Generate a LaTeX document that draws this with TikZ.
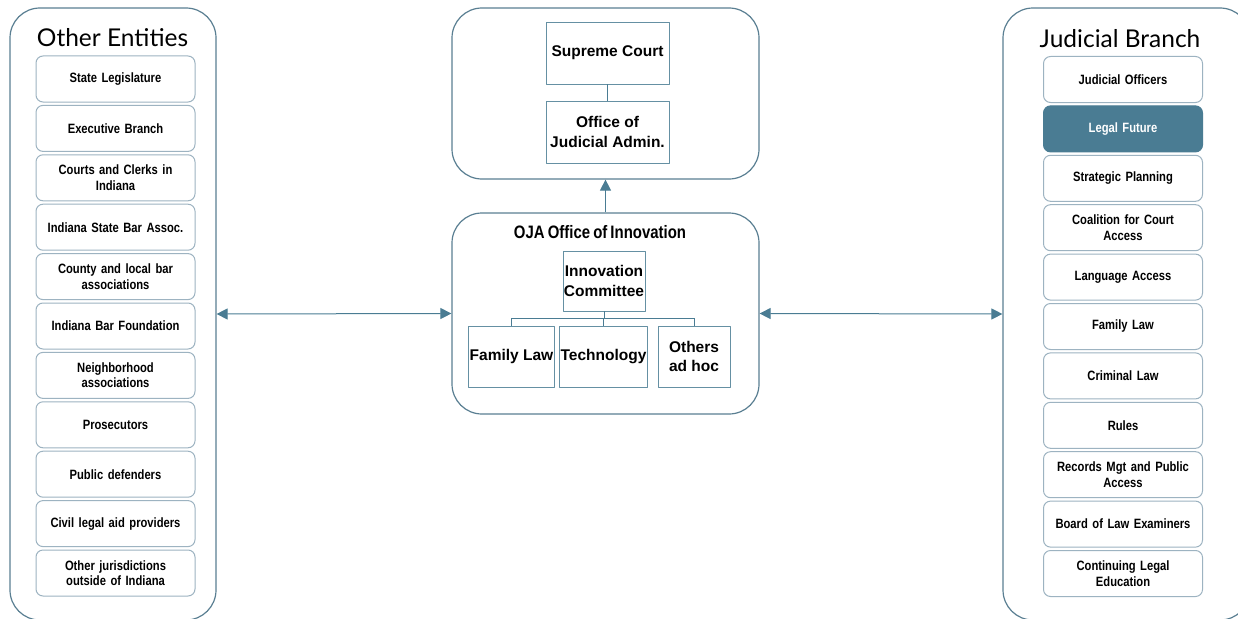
\documentclass[tikz,border=0pt]{standalone}
\usepackage{fontspec}
\setmainfont{Liberation Sans}
\newfontfamily\titlefont{Lato}
\newfontfamily\narrowfont[FakeStretch=0.83,WordSpace=0.75]{Liberation Sans}
\usepackage{tikz}
\usetikzlibrary{arrows.meta,positioning}
\definecolor{frame}{HTML}{5A7F92}
\definecolor{soft}{HTML}{9DB3C1}
\definecolor{steel}{HTML}{4A7C93}
\tikzset{
  Group/.style={
    draw=frame, line width=1.2pt,
    rounded corners=30pt, fill=white, inner sep=0pt
  },
  Member/.style={
    draw=soft, line width=1pt, rounded corners=7pt,
    minimum width=159pt, minimum height=46pt,
    text width=155pt, align=center, inner sep=0pt,
    font=\narrowfont\bfseries\fontsize{13.5}{15.5}\selectfont
  },
  Highlight/.style={Member, fill=steel, draw=steel, text=white},
  Unit/.style={
    draw=steel!85, line width=0.9pt, align=center, inner sep=1pt,
    font=\bfseries\fontsize{15.5}{19.5}\selectfont
  },
  Title/.style={font=\titlefont\fontsize{24.5}{28}\selectfont},
  Link/.style={draw=steel, line width=1pt},
  Tip/.tip={Triangle[length=11pt,width=11pt]}
}

\begin{document}
\begin{tikzpicture}[x=1pt, y=-1pt, line join=round]
  \useasboundingbox (0,0) rectangle (1238,618);
  \clip (0,0) rectangle (1238,618);

  % outer groups
  \node[Group, minimum width=206pt, minimum height=612pt] (others) at (113,314) {};
  \node[Group, minimum width=247pt, minimum height=612pt] (judicial) at (1126.5,314) {};
  \node[Group, minimum width=307pt, minimum height=171pt] (court) at (605.5,93.5) {};
  \node[Group, minimum width=307pt, minimum height=201pt] (oja) at (605.5,313.5) {};

  \node[Title] at (112.5,38) {Other Entities};
  \node[Title] at (1120,39) {Judicial Branch};

  % other entities
  \node[Member] (o1)  at (115.5,79.0)  {State Legislature};
  \node[Member] (o2)  at (115.5,128.4) {Executive Branch};
  \node[Member] (o3)  at (115.5,177.8) {Courts and Clerks in\\Indiana};
  \node[Member] (o4)  at (115.5,227.2) {Indiana State Bar Assoc.};
  \node[Member] (o5)  at (115.5,276.6) {County and local bar\\associations};
  \node[Member] (o6)  at (115.5,326.0) {Indiana Bar Foundation};
  \node[Member] (o7)  at (115.5,375.4) {Neighborhood\\associations};
  \node[Member] (o8)  at (115.5,424.8) {Prosecutors};
  \node[Member] (o9)  at (115.5,474.2) {Public defenders};
  \node[Member] (o10) at (115.5,523.6) {Civil legal aid providers};
  \node[Member] (o11) at (115.5,573.0) {Other jurisdictions\\outside of Indiana};

  % judicial branch
  \node[Member]    (j1)  at (1123,79.5)  {Judicial Officers};
  \node[Highlight] (j2)  at (1123,128.9) {Legal Future};
  \node[Member]    (j3)  at (1123,178.3) {Strategic Planning};
  \node[Member]    (j4)  at (1123,227.7) {Coalition for Court\\Access};
  \node[Member]    (j5)  at (1123,277.1) {Language Access};
  \node[Member]    (j6)  at (1123,326.5) {Family Law};
  \node[Member]    (j7)  at (1123,375.9) {Criminal Law};
  \node[Member]    (j8)  at (1123,425.3) {Rules};
  \node[Member]    (j9)  at (1123,474.7) {Records Mgt and Public\\Access};
  \node[Member]    (j10) at (1123,524.1) {Board of Law Examiners};
  \node[Member]    (j11) at (1123,573.5) {Continuing Legal\\Education};

  % supreme court and OJA
  \node[Unit, minimum width=123pt, minimum height=62pt] (supreme) at (607.5,53) {Supreme Court};
  \node[Unit, minimum width=123pt, minimum height=62pt] (office) at (607.5,132) {Office of\\Judicial Admin.};
  \draw[steel, line width=0.9pt] (supreme) -- (office);

  % office of innovation
  \node[font=\narrowfont\bfseries\fontsize{18}{21}\selectfont] (ojatitle) at (600,232) {OJA Office of Innovation};
  \node[Unit, minimum width=82pt, minimum height=60pt] (committee) at (604,281) {Innovation\\Committee};
  \node[Unit, minimum width=83pt, minimum height=61pt] (family) at (511.5,356.5) {Family Law};
  \node[Unit, minimum width=83pt, minimum height=61pt] (tech) at (603.5,356.5) {Technology};
  \node[Unit, minimum width=72pt, minimum height=61pt] (adhoc) at (694,356.5) {Others\\ad hoc};

  \draw[steel, line width=0.9pt] (committee.south) -- ++(0,7) coordinate (split);
  \draw[steel, line width=0.9pt] (split -| family.north) -- (split -| adhoc.north);
  \draw[steel, line width=0.9pt] (split -| family.north) -- (family.north);
  \draw[steel, line width=0.9pt] (split -| tech.north) -- (tech.north);
  \draw[steel, line width=0.9pt] (split -| adhoc.north) -- (adhoc.north);

  % links between groups
  \draw[Link, Tip-Tip] (others.east) -- (oja.west);
  \draw[Link, Tip-Tip] (oja.east) -- (judicial.west);
  \draw[Link, -Tip] (oja.north) -- (court.south);
\end{tikzpicture}
\end{document}
